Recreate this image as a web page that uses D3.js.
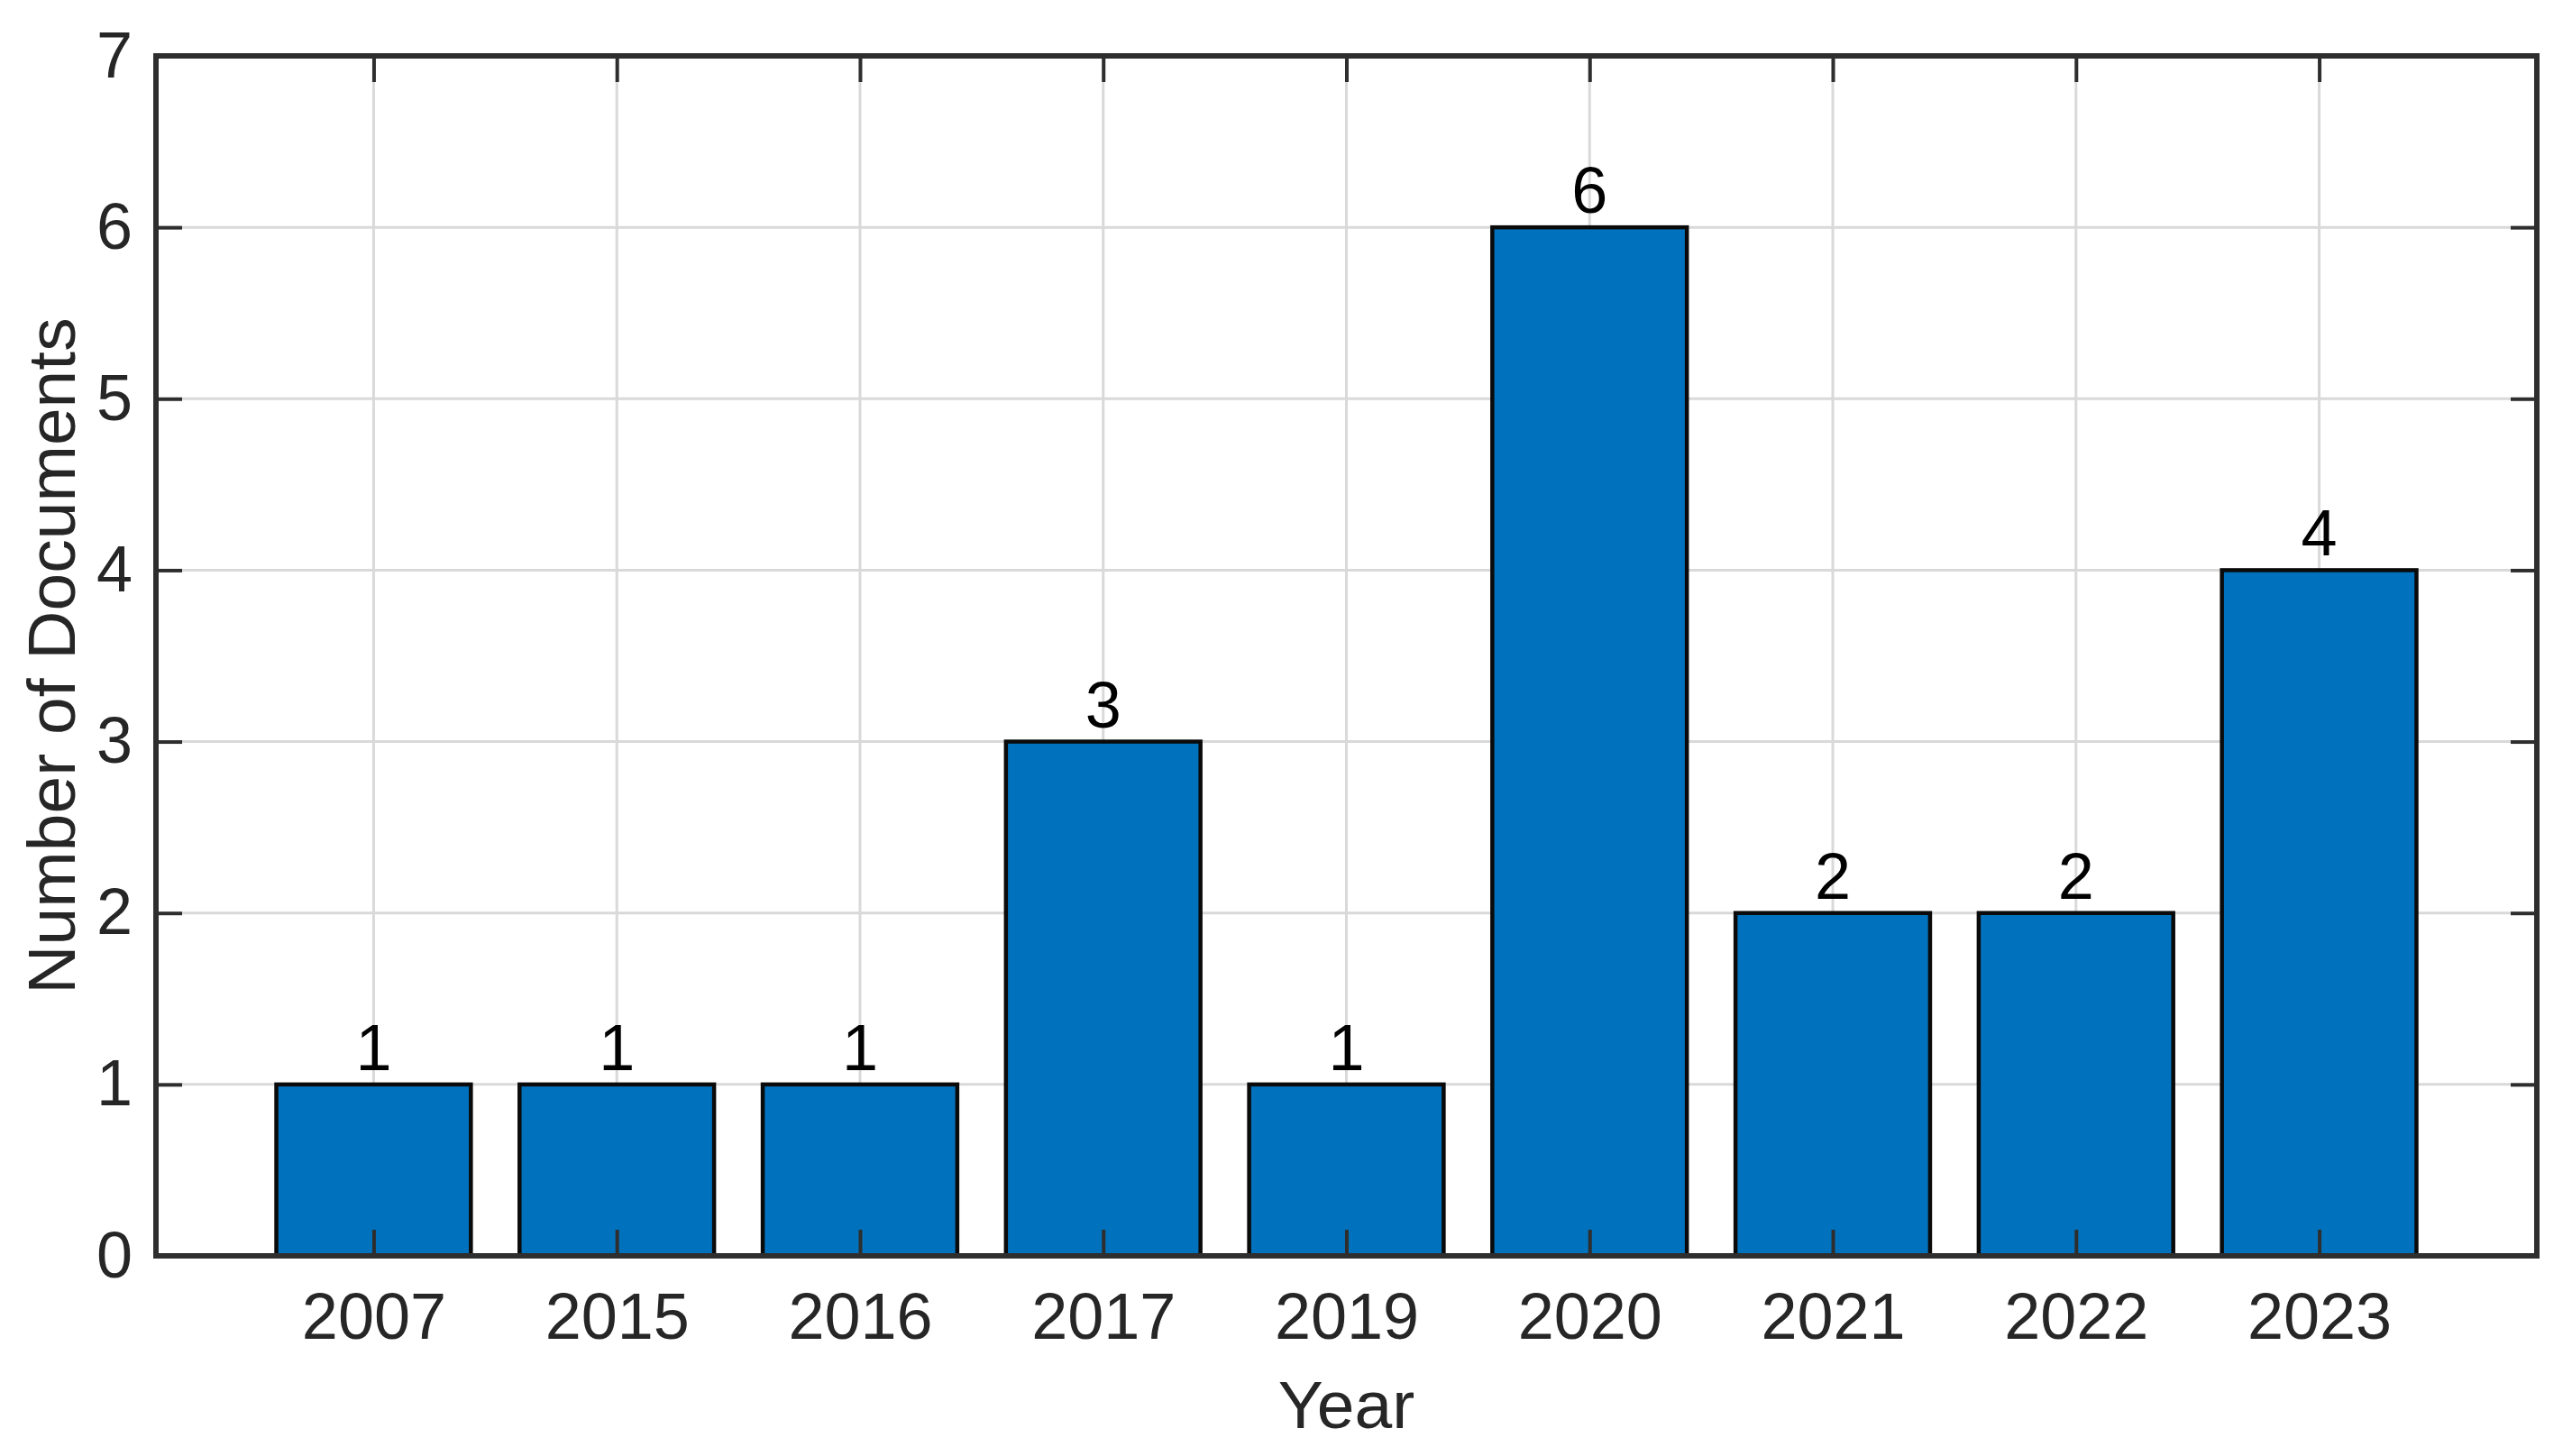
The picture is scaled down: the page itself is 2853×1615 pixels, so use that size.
<!DOCTYPE html>
<html><head><meta charset="utf-8">
<script src="https://cdn.jsdelivr.net/npm/d3@7"></script>
<style>html,body{margin:0;padding:0;background:#fff;}svg{display:block;}</style>
</head><body>
<script>
const categories = ["2007","2015","2016","2017","2019","2020","2021","2022","2023"];
const values = [1,1,1,3,1,6,2,2,4];
const yTicks = [0,1,2,3,4,5,6,7];
const xTitle = "Year";
const yTitle = "Number of Documents";

const W = 2853, H = 1615;
const L = 173, R = 2814, T = 62, B = 1393;
const axisColor = "#2e2e2e";
const fontFam = "'Liberation Sans', Arial, sans-serif";

const svg = d3.select("body").append("svg").attr("width", W).attr("height", H);

const x = d3.scaleLinear().domain([-0.895, categories.length - 1 + 0.895]).range([L, R]);
const y = d3.scaleLinear().domain([0, 7]).range([B, T]);
const barW = x(0.8) - x(0);

// grid
const g = svg.append("g");
g.selectAll(".gx").data(categories).enter().append("line")
  .attr("x1", (d,i)=>x(i)).attr("x2", (d,i)=>x(i)).attr("y1", T).attr("y2", B)
  .attr("stroke", "#d9d9d9").attr("stroke-width", 3);
g.selectAll(".gy").data(yTicks).enter().append("line")
  .attr("x1", L).attr("x2", R).attr("y1", d=>y(d)).attr("y2", d=>y(d))
  .attr("stroke", "#d9d9d9").attr("stroke-width", 3);

// bars
svg.selectAll(".bar").data(values).enter().append("rect")
  .attr("x", (d,i)=>x(i) - barW/2).attr("width", barW)
  .attr("y", d=>y(d)).attr("height", d=>y(0)-y(d))
  .attr("fill", "#0072BD").attr("stroke", "#0a0a0a").attr("stroke-width", 4.5);

// value labels
svg.selectAll(".vl").data(values).enter().append("text")
  .attr("x", (d,i)=>x(i)).attr("y", d=>y(d) - 16)
  .attr("text-anchor", "middle").attr("font-family", fontFam).attr("font-size", 72)
  .attr("fill", "#000").text(d=>d);

// axes with inward ticks
const tickLen = 29;
const xAxisB = d3.axisBottom(x).tickValues(d3.range(categories.length)).tickFormat(i=>categories[i]).tickSizeInner(-tickLen).tickSizeOuter(0).tickPadding(41);
const xAxisT = d3.axisTop(x).tickValues(d3.range(categories.length)).tickFormat("").tickSizeInner(-tickLen).tickSizeOuter(0);
const yAxisL = d3.axisLeft(y).tickValues(yTicks).tickFormat(d3.format("d")).tickSizeInner(-tickLen).tickSizeOuter(0).tickPadding(26);
const yAxisR = d3.axisRight(y).tickValues(yTicks).tickFormat("").tickSizeInner(-tickLen).tickSizeOuter(0);

function style(sel){
  sel.selectAll(".domain").remove();
  sel.selectAll(".tick line").attr("stroke", axisColor).attr("stroke-width", 4);
  sel.selectAll(".tick text").attr("font-family", fontFam).attr("font-size", 72).attr("fill", "#262626");
}
svg.append("g").attr("transform", `translate(0,${B})`).call(xAxisB).call(style);
svg.append("g").attr("transform", `translate(0,${T})`).call(xAxisT).call(style);
svg.append("g").attr("transform", `translate(${L},0)`).call(yAxisL).call(style);
svg.append("g").attr("transform", `translate(${R},0)`).call(yAxisR).call(style);

// box
svg.append("rect").attr("x", L).attr("y", T).attr("width", R-L).attr("height", B-T)
  .attr("fill", "none").attr("stroke", axisColor).attr("stroke-width", 6);

// titles
svg.append("text").attr("x", (L+R)/2).attr("y", 1584).attr("text-anchor","middle")
  .attr("font-family", fontFam).attr("font-size", 75).attr("fill", "#262626").text(xTitle);
svg.append("text").attr("transform", `translate(83,${(T+B)/2}) rotate(-90)`).attr("text-anchor","middle")
  .attr("font-family", fontFam).attr("font-size", 75).attr("fill", "#262626").text(yTitle);
</script>
</body></html>
